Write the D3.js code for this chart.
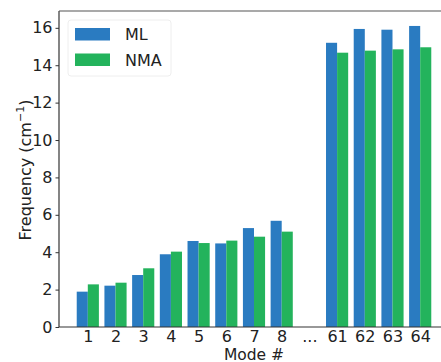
<!DOCTYPE html>
<html>
<head>
<meta charset="utf-8">
<script src="https://cdn.jsdelivr.net/npm/d3@7"></script>
<style>
  body { margin: 0; background: #fff; }
  svg { display: block; font-family: "DejaVu Sans", sans-serif; }
</style>
</head>
<body>
<div id="chart"></div>
<script>
const WIDTH = 441
const HEIGHT = 362

const modes = ['1', '2', '3', '4', '5', '6', '7', '8', '...', '61', '62', '63', '64']
const mlValues = [1.89, 2.21, 2.78, 3.89, 4.6, 4.47, 5.29, 5.68, null, 15.2, 15.94, 15.9, 16.1]
const nmaValues = [2.28, 2.37, 3.14, 4.03, 4.49, 4.62, 4.83, 5.1, null, 14.67, 14.78, 14.85, 14.96]
const yTicks = [0, 2, 4, 6, 8, 10, 12, 14, 16]
const seriesNames = ['ML', 'NMA']
const seriesColors = ['#2a7bc1', '#23b35c']

const margin = { top: 11, right: -8, bottom: 35, left: 59 }
const plotW = WIDTH - margin.left - margin.right
const plotH = HEIGHT - margin.top - margin.bottom

const svg = d3.select('#chart')
  .append('svg')
  .attr('width', WIDTH)
  .attr('height', HEIGHT)

const g = svg.append('g')
  .attr('transform', `translate(${margin.left}, ${margin.top})`)

// index axis, matplotlib style: bars from i-0.4 to i+0.4, 5% margin
const xIdx = d3.scaleLinear()
  .domain([-1.04, modes.length - 1 + 1.04])
  .range([0, plotW])

const y = d3.scaleLinear()
  .domain([0, 16.9])
  .range([plotH, 0])

const barW = xIdx(0.4) - xIdx(0)

const series = [mlValues, nmaValues]
series.forEach((vals, s) => {
  g.append('g')
    .selectAll('rect')
    .data(vals.map((v, i) => ({ v, i })).filter(d => d.v !== null))
    .join('rect')
    .attr('x', d => xIdx(d.i) + (s === 0 ? -barW : 0))
    .attr('y', d => y(d.v))
    .attr('width', barW)
    .attr('height', d => y(0) - y(d.v))
    .attr('fill', seriesColors[s])
})

// spines
g.append('line')
  .attr('x1', 0).attr('x2', 0).attr('y1', 0).attr('y2', plotH)
  .attr('stroke', '#333').attr('stroke-width', 1.2)
g.append('line')
  .attr('x1', 0).attr('x2', plotW).attr('y1', 0).attr('y2', 0)
  .attr('stroke', '#555').attr('stroke-width', 1.2)
g.append('line')
  .attr('x1', 0).attr('x2', plotW).attr('y1', plotH).attr('y2', plotH)
  .attr('stroke', '#333').attr('stroke-width', 1.2)

// y axis
const yAxis = g.append('g')
  .call(d3.axisLeft(y).tickValues(yTicks).tickSize(3.5).tickPadding(3))
yAxis.select('.domain').remove()
yAxis.selectAll('text')
  .attr('font-size', 16)
  .attr('fill', '#222')
  .attr('font-family', 'DejaVu Sans, sans-serif')
yAxis.selectAll('line').attr('stroke', '#333')

// x axis labels (no tick marks)
const xAxis = g.append('g')
  .attr('transform', `translate(0, ${plotH})`)
  .call(d3.axisBottom(xIdx)
    .tickValues(d3.range(modes.length))
    .tickFormat(i => modes[i])
    .tickSize(0)
    .tickPadding(4))
xAxis.select('.domain').remove()
xAxis.selectAll('text')
  .attr('font-size', 16)
  .attr('fill', '#222')
  .attr('font-family', 'DejaVu Sans, sans-serif')

// axis titles
svg.append('text')
  .attr('x', 254)
  .attr('y', 360)
  .attr('text-anchor', 'middle')
  .attr('font-size', 15.5)
  .attr('fill', '#222')
  .text('Mode #')

const yTitle = svg.append('text')
  .attr('transform', 'translate(31, 170) rotate(-90)')
  .attr('text-anchor', 'middle')
  .attr('font-size', 16)
  .attr('fill', '#222')
yTitle.append('tspan').text('Frequency (cm')
yTitle.append('tspan').attr('dy', -7).attr('font-size', 11).text('\u22121')
yTitle.append('tspan').attr('dy', 7).text(')')

// legend
const legend = svg.append('g')
  .attr('transform', 'translate(68, 20)')
legend.append('rect')
  .attr('width', 103).attr('height', 56)
  .attr('rx', 3)
  .attr('fill', '#fff')
  .attr('stroke', '#eee')
seriesNames.forEach((name, i) => {
  const row = legend.append('g')
    .attr('transform', `translate(7, ${8 + i * 25.5})`)
  row.append('rect')
    .attr('width', 35).attr('height', 12.5)
    .attr('fill', seriesColors[i])
  row.append('text')
    .attr('x', 50).attr('y', 12)
    .attr('font-size', 16)
    .attr('fill', '#222')
    .text(name)
})
</script>
</body>
</html>
